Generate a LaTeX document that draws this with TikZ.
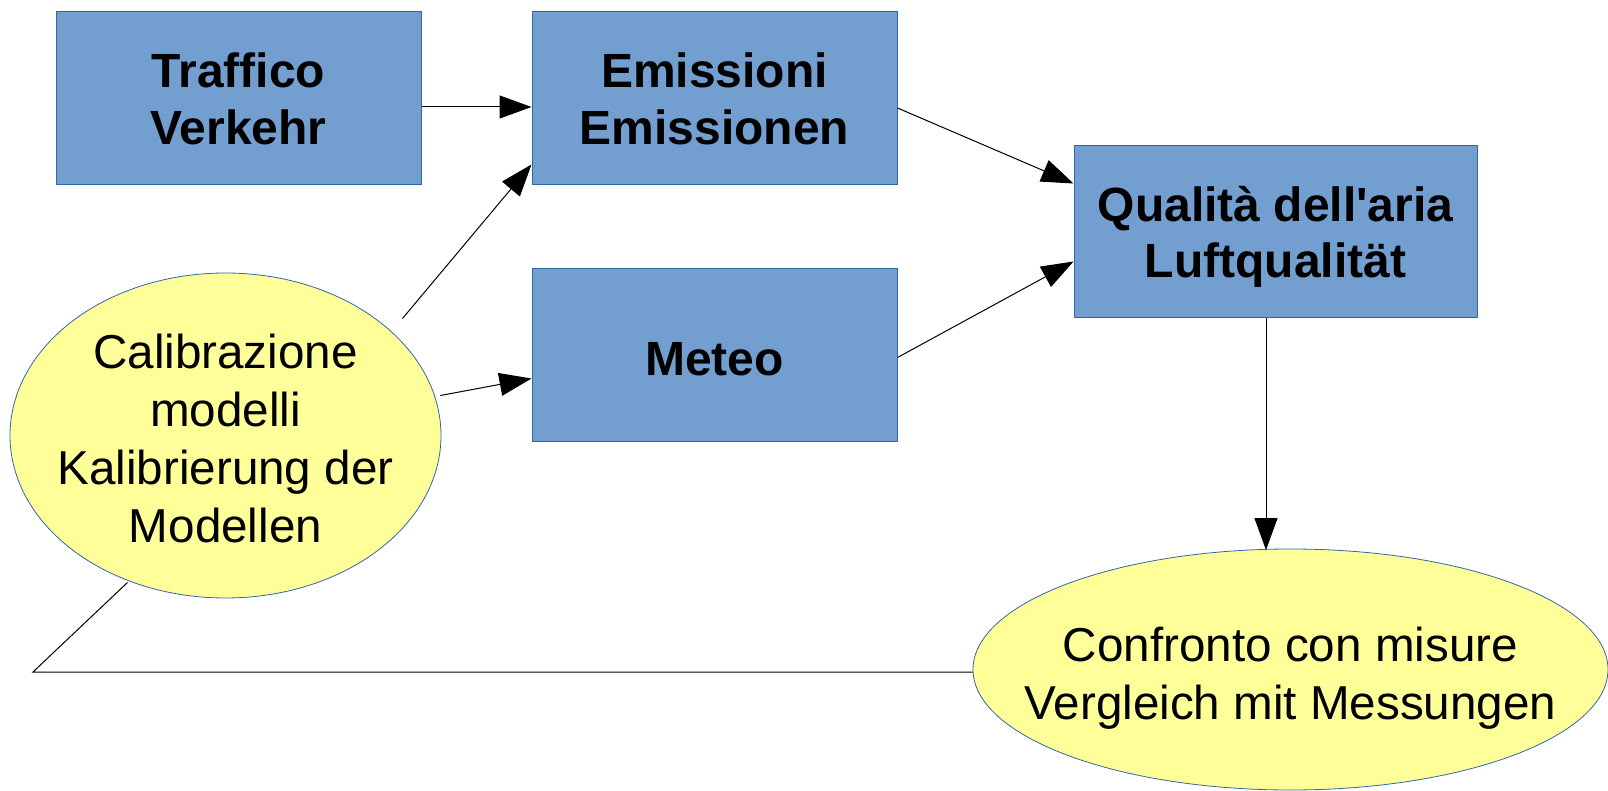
\documentclass[tikz,border=0pt]{standalone}
\usepackage{fontspec}
\newfontfamily\arial{Liberation Sans}
\usetikzlibrary{calc,arrows.meta,shapes.geometric}
\definecolor{boxfill}{HTML}{729FCF}
\definecolor{boxline}{HTML}{3465A4}
\definecolor{ellfill}{HTML}{FFFF99}
% text block whose first baseline sits #1 above the node centre, taking no room
\newcommand\flattext[2]{\raisebox{#1}[0pt][0pt]{\makebox[0pt]{\begin{tabular}[t]{@{}c@{}}#2\end{tabular}}}}
\tikzset{
  stepbox/.style={rectangle, draw=boxline, line width=0.5pt, fill=boxfill, inner sep=0pt,
    align=center, font=\arial\bfseries\fontsize{24}{28.4}\selectfont},
  ellnode/.style={ellipse, draw=boxline, line width=0.4pt, fill=ellfill, inner sep=0pt,
    font=\arial\fontsize{23.8}{29}\selectfont},
  conn/.style={draw=black, line width=0.5pt},
  arr/.style={conn, -{Triangle[length=16pt, width=11.5pt]}},
}
\begin{document}
\begin{tikzpicture}[x=0.5pt, y=-0.5pt]
\useasboundingbox (0,0) rectangle (1608,791);
\node[stepbox, minimum width=182.5pt, minimum height=86.5pt] (traf) at (238.5,98.5) {Traffico\\Verkehr};
\node[stepbox, minimum width=182.5pt, minimum height=86.5pt] (emi) at (714.5,98.5) {Emissioni\\Emissionen};
\node[stepbox, minimum width=182.5pt, minimum height=86.5pt, text height=19.7pt, text depth=0pt] (met) at (714.5,355.5) {Meteo};
\node[stepbox, minimum width=201.5pt, minimum height=86pt, text depth=0pt] (qual) at (1275.5,232) {Qualità dell'aria\\Luftqualität};
\node[ellnode, minimum width=215.5pt, minimum height=162.5pt] (cal) at (225.5,435.5)
  {\flattext{33.5pt}{Calibrazione\\modelli\\Kalibrierung der\\Modellen}};
\node[ellnode, minimum width=317.5pt, minimum height=120.5pt] (conf) at (1290.5,669.5)
  {\flattext{4pt}{Confronto con misure\\Vergleich mit Messungen}};

\draw[arr] ($(traf.east)+(0,8.5)$) -- ($(emi.west)+(0,8.5)$);
\draw[arr] ($(cal.center)+(177,-117)$) -- ($(emi.south west)+(0,-21)$);
\draw[arr] ($(cal.east)+(-1,-40)$) -- ($(met.west)+(0,23)$);
\draw[arr] ($(emi.east)+(0,9.5)$) -- ($(qual.west)+(0,-48.5)$);
\draw[arr] ($(met.east)+(0,2)$) -- ($(qual.west)+(0,29.5)$);
\coordinate (q1) at ($(qual.south)+(-9.5,0)$);
\coordinate (q2) at ($(conf.north)+(-25,1.5)$);
\draw[arr] (q1) -- (q1 |- q2);
\coordinate (corner) at (33,672);
\draw[conn] ($(conf.west)+(0,2.5)$) -- (corner) -- ($(cal.center)+(-98,147)$);
\end{tikzpicture}
\end{document}
